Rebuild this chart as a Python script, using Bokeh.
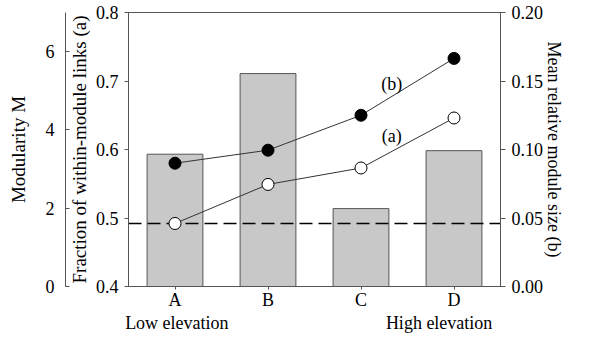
import math
from bokeh.plotting import figure
from bokeh.models import (Range1d, LinearAxis, FixedTicker, Label, PrintfTickFormatter)
from bokeh.embed import file_html
from bokeh.resources import INLINE

# ---- data ----
sites = ["A", "B", "C", "D"]
site_pos = [1, 2, 3, 4]
elev_text = ["Low elevation", "High elevation"]
elev_pos = [1.02, 3.84]
modularity = [3.38, 5.44, 1.99, 3.47]          # bars, left outer axis (Modularity M)
frac_within = [0.492, 0.549, 0.573, 0.646]     # (a) open circles, left inner axis
mean_size = [0.090, 0.0995, 0.125, 0.1665]     # (b) filled circles, right axis
null_frac = 0.492                              # dashed reference line
left_ticks = [0.4, 0.5, 0.6, 0.7, 0.8]
right_ticks = [0.0, 0.05, 0.10, 0.15, 0.20]
m_ticks = [0, 2, 4, 6]
x_lo, x_hi = 0.5, 4.5
series_text = ["(a)", "(b)"]
series_x = [3.33, 3.33]
series_y = [0.619, 0.696]

FONT = "Liberation Serif"
AX = "#555555"
FS = "18px"
LFS = "19px"

p = figure(width=579, height=338, output_backend="svg", toolbar_location=None,
           x_range=Range1d(x_lo, x_hi), y_range=Range1d(0.4, 0.8),
           min_border_left=128, min_border_right=79, min_border_top=12,
           min_border_bottom=52)
p.extra_y_ranges = {"M": Range1d(0, 7), "b": Range1d(0, 0.2)}
p.grid.visible = False
p.outline_line_color = AX
p.outline_line_width = 1


def style(ax):
    ax.axis_line_color = AX
    ax.major_tick_line_color = AX
    ax.minor_tick_line_color = None
    ax.major_label_text_font = FONT
    ax.major_label_text_font_size = FS
    ax.major_label_text_color = "black"
    ax.axis_label_text_font = FONT
    ax.axis_label_text_font_size = LFS
    ax.axis_label_text_font_style = "normal"
    ax.axis_label_text_color = "black"


# bottom axis (site letters)
xa = p.xaxis[0]
style(xa)
xa.ticker = FixedTicker(ticks=site_pos)
xa.major_label_overrides = {pos: s for pos, s in zip(site_pos, sites)}
xa.major_tick_out = 3
xa.major_tick_in = 0
xa.major_label_standoff = 0

# second bottom axis (elevation captions)
ea = LinearAxis(ticker=FixedTicker(ticks=elev_pos))
style(ea)
ea.major_label_overrides = {pos: t for pos, t in zip(elev_pos, elev_text)}
ea.axis_line_color = None
ea.major_tick_line_color = None
ea.major_tick_out = 0
ea.major_tick_in = 0
ea.major_label_standoff = 0
p.add_layout(ea, "below")

# inner left axis (fraction)
ya = p.yaxis[0]
style(ya)
ya.ticker = FixedTicker(ticks=left_ticks)
ya.major_tick_out = 4
ya.major_tick_in = 0
ya.major_label_standoff = 6
ya.axis_label = "Fraction of within-module links (a)"
ya.axis_label_standoff = 3

# spacer between inner and outer left axes
sp = LinearAxis(y_range_name="M", ticker=FixedTicker(ticks=[]),
                axis_line_color=None, major_tick_line_color=None,
                minor_tick_line_color=None, major_tick_out=31, major_tick_in=0,
                major_label_text_font_size="0px")
p.add_layout(sp, "left")

# outer left axis (modularity)
ma = LinearAxis(y_range_name="M", ticker=FixedTicker(ticks=m_ticks))
style(ma)
ma.major_tick_in = 4
ma.major_tick_out = 0
ma.major_label_standoff = 11
ma.axis_label = "Modularity M"
ma.axis_label_standoff = 14
p.add_layout(ma, "left")

# right axis
ra = LinearAxis(y_range_name="b", ticker=FixedTicker(ticks=right_ticks),
                formatter=PrintfTickFormatter(format="%.2f"))
style(ra)
ra.major_tick_out = 5
ra.major_tick_in = 0
ra.major_label_standoff = 6
ra.axis_label = "Mean relative module size (b)"
ra.axis_label_standoff = -2
ra.axis_label_text_font_size = FS
p.add_layout(ra, "right")

# bars
p.vbar(x=site_pos, top=modularity, bottom=0, width=0.6, y_range_name="M",
       fill_color="#c8c8c8", line_color=AX, line_width=1)

# dashed reference line
p.hspan(y=[null_frac], line_color="black", line_width=1.5, line_dash="13 6")

# series (a)
p.line(site_pos, frac_within, line_color="#333333", line_width=1)
p.scatter(site_pos, frac_within, size=12, fill_color="white",
          line_color="black", line_width=1)

# series (b)
p.line(site_pos, mean_size, y_range_name="b", line_color="#333333", line_width=1)
p.scatter(site_pos, mean_size, y_range_name="b", size=12, fill_color="black",
          line_color="black", line_width=1)

for t, x, y in zip(series_text, series_x, series_y):
    p.add_layout(Label(x=x, y=y, text=t, text_font=FONT, text_font_size=FS,
                       text_color="black", text_align="center",
                       text_baseline="middle"))

open("out.html", "w").write(file_html(p, INLINE))
